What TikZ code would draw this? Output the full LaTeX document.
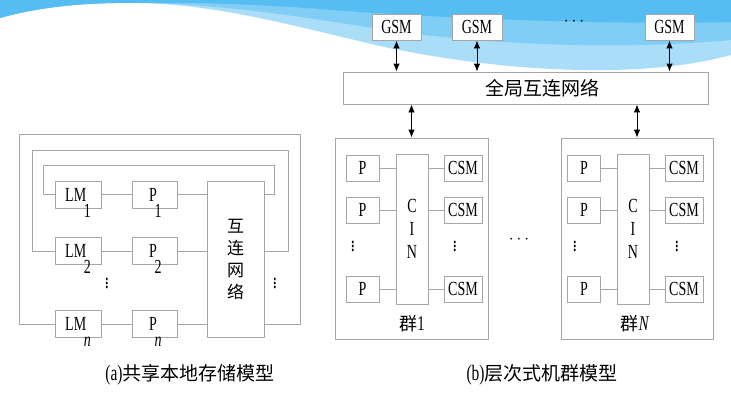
\documentclass[tikz,border=0pt]{standalone}
\usepackage{fontspec}
\setmainfont{Liberation Serif}[FakeStretch=0.7]
\newfontfamily\cjk{Noto Sans CJK SC}
\usepackage{tikz}
\usetikzlibrary{arrows.meta,positioning,calc}
\definecolor{boxgray}{HTML}{A6A6A6}
\definecolor{skydark}{HTML}{56BDF2}
\definecolor{skymid}{HTML}{80CDF5}
\definecolor{skylight}{HTML}{AADDF8}
\newcommand{\dn}[1]{\kern-0.12em\raisebox{-0.8em}[0pt][0pt]{#1}}

\begin{document}
\begin{tikzpicture}[x=1pt, y=-1pt, line width=0.9pt,
  >={Latex[length=8pt,width=6.5pt]},
  lat/.style={font=\fontsize{20}{22}\selectfont},
  zh/.style={font=\cjk\fontsize{#1}{22}\selectfont},
  zh/.default=19,
  dots/.style={font=\fontsize{23}{23}\selectfont, inner sep=0pt},
  hdots/.style={font=\fontsize{18}{18}\selectfont, inner sep=0pt},
  box/.style={draw=boxgray, fill=white, inner sep=0pt, lat, minimum width=#1, minimum height=26pt},
  wire/.style={draw=boxgray},
  dbl/.style={<->, draw=black}]
  \useasboundingbox (0,0) rectangle (731,400);
  % sky at the top
  \fill[skylight] (0,0) -- (731,0) -- (731,55) .. controls (640,80) and (500,72) .. (380,46)
    .. controls (290,25) and (220,5) .. (140,3) .. controls (80,2) and (35,8) .. (0,18) -- cycle;
  \fill[skymid] (0,0) -- (731,0) -- (731,40) .. controls (620,50) and (500,45) .. (400,32)
    .. controls (320,20) and (230,4) .. (140,3) .. controls (80,2) and (35,8) .. (0,18) -- cycle;
  \fill[skydark] (0,0) -- (731,0) -- (731,22) .. controls (600,25) and (450,18) .. (360,12)
    .. controls (260,4) and (200,2) .. (140,3) .. controls (80,2) and (35,8) .. (0,18) -- cycle;

  % (a) shared local memory
  \node[box=46pt, minimum height=27pt] (lm1) at (78,194.5) {LM\dn{1}};
  \node[box=46pt, minimum height=27pt, below=29pt of lm1] (lm2) {LM\dn{2}};
  \node[box=46pt, minimum height=27pt, below=45pt of lm2] (lmn) {LM\dn{\textit{n}}};
  \node[box=45pt, minimum height=27pt, right=31pt of lm1] (p1) {P\dn{1}};
  \node[box=45pt, minimum height=27pt, right=31pt of lm2] (p2) {P\dn{2}};
  \node[box=45pt, minimum height=27pt, right=31pt of lmn] (pn) {P\dn{\textit{n}}};
  \node[box=57pt, minimum height=156pt, zh=17, align=center] (net) at (235.5,259) {互\\连\\网\\络};
  \node[dots] (dotl) at (107,280) {$\vdots$};
  \node[dots] (dotr) at (275,280) {$\vdots$};
  \coordinate (loopA) at (43,165);  \coordinate (loopA') at (274,165);
  \coordinate (loopB) at (32,150);  \coordinate (loopB') at (288,150);
  \coordinate (loopC) at (19,134);  \coordinate (loopC') at (300,134);
  \draw[wire] (lm1) -- (p1);
  \draw[wire] (lm2) -- (p2);
  \draw[wire] (lmn) -- (pn);
  \draw[wire] (p1) -- (net.west |- p1);
  \draw[wire] (p2) -- (net.west |- p2);
  \draw[wire] (pn) -- (net.west |- pn);
  \draw[wire] (lm1.west) -| (loopA) -- (loopA') |- (net.east |- lm1);
  \draw[wire] (lm2.west) -| (loopB) -- (loopB') |- (net.east |- lm2);
  \draw[wire] (lmn.west) -| (loopC) -- (loopC') |- (net.east |- lmn);
  \node[zh] (capa) at (190,375) {\rmfamily\fontsize{22}{22}\selectfont(a)\cjk\fontsize{19}{22}\selectfont 共享本地存储模型};

  % (b) hierarchical cluster
  \node[box=49pt] (gsm1) at (396.5,27) {GSM};
  \node[box=50pt] (gsm2) at (477,27) {GSM};
  \node[box=49pt] (gsm3) at (669.5,27) {GSM};
  \node[hdots] (gdots) at (574,22) {$\cdots$};
  \node[box=365pt, minimum height=32pt, zh] (glob) at (525.5,88) {\hspace*{34pt}全局互连网络};
  \draw[dbl] (gsm1) -- (gsm1 |- glob.north);
  \draw[dbl] (gsm2) -- (gsm2 |- glob.north);
  \draw[dbl] (gsm3) -- (gsm3 |- glob.north);

  \node[box=153pt, minimum height=201pt] (cl1) at (411.5,238.5) {};
  \node[box=152pt, minimum height=201pt] (cln) at (637,238.5) {};
  \draw[dbl] (cl1 |- glob.south) -- (cl1.north);
  \draw[dbl] (cln |- glob.south) -- (cln.north);
  \node[hdots] (cdots) at (519,240) {$\cdots$};

  % cluster 1
  \node[box=32pt, minimum height=150pt, align=center, font=\fontsize{20}{23}\selectfont] (cin1) at (412,229) {C\\I\\N};
  \node[box=33pt] (p11) at (362.5,168) {P};
  \node[box=33pt] (p12) at (362.5,210) {P};
  \node[box=33pt] (p13) at (362.5,289) {P};
  \node[box=38pt] (m11) at (463,168) {CSM};
  \node[box=38pt] (m12) at (463,210) {CSM};
  \node[box=38pt] (m13) at (463,289) {CSM};
  \node[dots] (d11) at (353,243) {$\vdots$};
  \node[dots] (d12) at (455,243) {$\vdots$};
  \node[zh=18] (lab1) at (412,324) {群\rmfamily\fontsize{21}{22}\selectfont 1};
  \draw[wire] (p11) -- (cin1.west |- p11);
  \draw[wire] (p12) -- (cin1.west |- p12);
  \draw[wire] (p13) -- (cin1.west |- p13);
  \draw[wire] (cin1.east |- m11) -- (m11);
  \draw[wire] (cin1.east |- m12) -- (m12);
  \draw[wire] (cin1.east |- m13) -- (m13);

  % cluster N
  \node[box=32pt, minimum height=150pt, align=center, font=\fontsize{20}{23}\selectfont] (cinn) at (633,229) {C\\I\\N};
  \node[box=33pt] (pn1) at (584,168) {P};
  \node[box=33pt] (pn2) at (584,210) {P};
  \node[box=33pt] (pn3) at (584,289) {P};
  \node[box=38pt] (mn1) at (684,168) {CSM};
  \node[box=38pt] (mn2) at (684,210) {CSM};
  \node[box=38pt] (mn3) at (684,289) {CSM};
  \node[dots] (dn1) at (575,243) {$\vdots$};
  \node[dots] (dn2) at (677,243) {$\vdots$};
  \node[zh=18] (labn) at (635,324) {群\rmfamily\fontsize{21}{22}\selectfont\textit{N}};
  \draw[wire] (pn1) -- (cinn.west |- pn1);
  \draw[wire] (pn2) -- (cinn.west |- pn2);
  \draw[wire] (pn3) -- (cinn.west |- pn3);
  \draw[wire] (cinn.east |- mn1) -- (mn1);
  \draw[wire] (cinn.east |- mn2) -- (mn2);
  \draw[wire] (cinn.east |- mn3) -- (mn3);
  \node[zh] (capb) at (542,375) {\rmfamily\fontsize{22}{22}\selectfont(b)\cjk\fontsize{19}{22}\selectfont 层次式机群模型};
\end{tikzpicture}
\end{document}
